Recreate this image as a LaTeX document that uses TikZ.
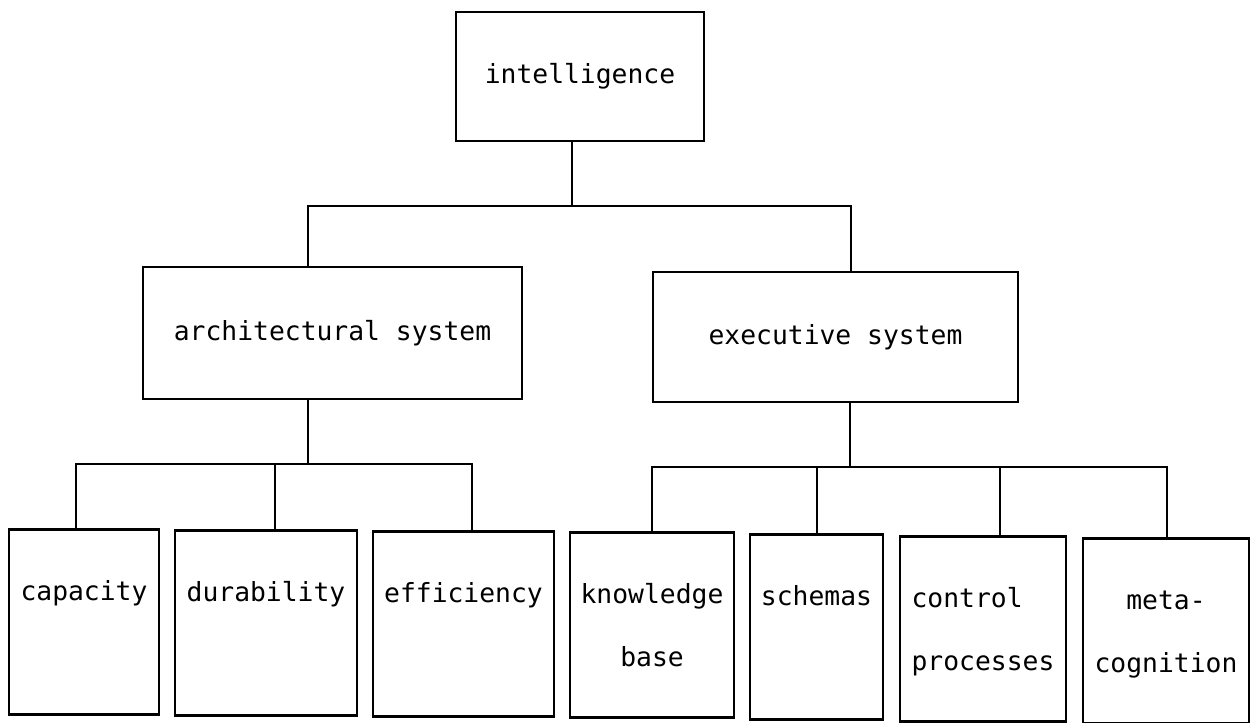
\documentclass[tikz,border=0pt]{standalone}
\usepackage{fontspec}
\newfontfamily\plotfont{DejaVu Sans Mono}
\usepackage{tikz}
\tikzset{
  box/.style={draw, line width=1.6pt, inner sep=0pt, font=\plotfont\fontsize{15}{18}\selectfont},
  leaf/.style={box, anchor=north, text height=1.42cm, text depth=2.28cm},
  link/.style={line width=1.6pt}
}
\newcommand{\twolines}[3]{\begin{tabular}[t]{@{}#1@{}}#2\\[18pt]#3\end{tabular}}

\begin{document}
\begin{tikzpicture}[x=0.02cm,y=-0.02cm]
		\useasboundingbox (0,0) rectangle (1258,723);
		% top levels
		\node[box, minimum width=4.96cm, minimum height=2.58cm] (intel) at (580,76.5) {intelligence};
		\node[box, minimum width=7.58cm, minimum height=2.64cm] (arch)  at (332.5,333) {architectural system};
		\node[box, minimum width=7.30cm, minimum height=2.60cm] (exec)  at (835.5,337) {executive system};
		% leaves
		\node[leaf, minimum width=3.00cm] (cap)   at (84,528)    {capacity};
		\node[leaf, minimum width=3.64cm] (dur)   at (266,529)   {durability};
		\node[leaf, minimum width=3.62cm] (eff)   at (463.5,530) {efficiency};
		\node[leaf, minimum width=3.28cm] (know)  at (652,531)   {\twolines{c}{knowledge}{base}};
		\node[leaf, minimum width=2.66cm] (schem) at (816.5,533) {schemas};
		\node[leaf, minimum width=3.32cm] (ctrl)  at (983,535)   {\twolines{l}{control}{processes}};
		\node[leaf, minimum width=3.32cm] (meta)  at (1166,537)  {\twolines{c}{meta-}{cognition}};
		% bus taps
		\coordinate (t0) at (572,206);
		\coordinate (t1) at (308,206);
		\coordinate (t2) at (851,206);
		\coordinate (l0) at (308,464);
		\coordinate (l1) at (76,464);
		\coordinate (l2) at (275,464);
		\coordinate (l3) at (472,464);
		\coordinate (r0) at (850,467);
		\coordinate (r1) at (652,467);
		\coordinate (r2) at (817,467);
		\coordinate (r3) at (1000,467);
		\coordinate (r4) at (1167,467);
		% intelligence -> systems
		\draw[link] (t0 |- intel.south) -- (t0);
		\draw[link] (t1 |- arch.north) -- (t1) -- (t2) -- (t2 |- exec.north);
		% architectural -> leaves
		\draw[link] (l0 |- arch.south) -- (l0);
		\draw[link] (l1 |- cap.north) -- (l1) -- (l3) -- (l3 |- eff.north);
		\draw[link] (l2) -- (l2 |- dur.north);
		% executive -> leaves
		\draw[link] (r0 |- exec.south) -- (r0);
		\draw[link] (r1 |- know.north) -- (r1) -- (r4) -- (r4 |- meta.north);
		\draw[link] (r2) -- (r2 |- schem.north);
		\draw[link] (r3) -- (r3 |- ctrl.north);
	\end{tikzpicture}
\end{document}
